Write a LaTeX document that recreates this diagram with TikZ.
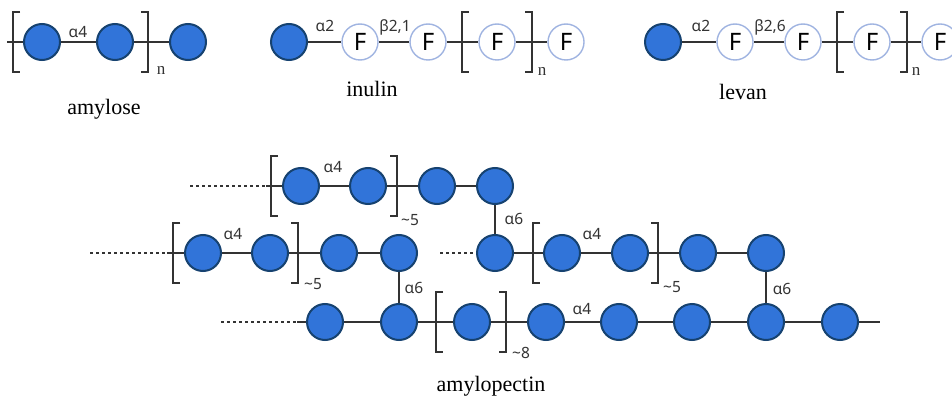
\documentclass[tikz,border=0pt]{standalone}
\usepackage{fontspec}
\setmainfont{Liberation Serif}
\newfontfamily\lblfont{Noto Sans}
\definecolor{gblue}{RGB}{49,116,217}
\definecolor{gedge}{RGB}{22,66,112}
\definecolor{fedge}{RGB}{160,180,225}
\definecolor{lnk}{RGB}{51,51,51}
\tikzset{
  glc/.style={circle,draw=gedge,fill=gblue,line width=2pt,minimum size=36pt,inner sep=0pt},
  fru/.style={circle,draw=fedge,fill=white,line width=1.4pt,minimum size=36pt,inner sep=0pt,
    font=\lblfont\fontsize{24}{24}\selectfont,text=black},
  bond/.style={draw=lnk,line width=1.6pt},
  dotline/.style={draw=lnk,line width=1.4pt,dash pattern=on 3pt off 3pt},
  brk/.style={draw=lnk,line width=1.8pt},
  lab/.style={font=\lblfont\fontsize{15.5}{15.5}\selectfont,text=lnk,inner sep=0pt},
  subn/.style={font=\fontsize{17}{17}\selectfont,text=lnk,inner sep=0pt},
  ttl/.style={font=\fontsize{22}{22}\selectfont,inner sep=0pt,anchor=base},
  lbrk/.pic={\draw[brk] (7,-30) -- (0,-30) -- (0,30) -- (7,30);},
  rbrk/.pic={\draw[brk] (-7,-30) -- (0,-30) -- (0,30) -- (-7,30);}
}
\begin{document}
\begin{tikzpicture}[x=1pt,y=-1pt]
\useasboundingbox[fill=white] (0,0) rectangle (952,398);

% ---------- amylose ----------
\node[glc] (a1) at (42,42) {};
\node[glc] (a2) at (115,42) {};
\node[glc] (a3) at (188,42) {};
\coordinate (a0) at (7,42);
\draw[bond] (a0) -- (a1) (a1) -- (a2) (a2) -- (a3);
\pic at (13,42) {lbrk};
\pic at (148,42) {rbrk};
\node[lab] (al1) at (78,32) {α4};
\node[subn] (an) at (161,70) {n};
\node[ttl] (amy) at (104,115) {amylose};

% ---------- inulin ----------
\node[glc] (i0) at (289,42) {};
\node[fru] (i1) at (360,42) {F};
\node[fru] (i2) at (428,42) {F};
\node[fru] (i3) at (497,42) {F};
\node[fru] (i4) at (566,42) {F};
\draw[bond] (i0) -- (i1) (i1) -- (i2) (i2) -- (i3) (i3) -- (i4);
\pic at (462,42) {lbrk};
\pic at (532,42) {rbrk};
\node[lab] (il1) at (325,26) {α2};
\node[lab] (il2) at (395,27) {β2,1};
\node[subn] (in) at (542,71) {n};
\node[ttl] (inu) at (372,97) {inulin};

% ---------- levan ----------
\node[glc] (l0) at (663,42) {};
\node[fru] (l1) at (735,42) {F};
\node[fru] (l2) at (803,42) {F};
\node[fru] (l3) at (872,42) {F};
\node[fru] (l4) at (940,42) {F};
\draw[bond] (l0) -- (l1) (l1) -- (l2) (l2) -- (l3) (l3) -- (l4);
\pic at (837,42) {lbrk};
\pic at (907,42) {rbrk};
\node[lab] (ll1) at (701,26) {α2};
\node[lab] (ll2) at (770,27) {β2,6};
\node[subn] (ln) at (916,71) {n};
\node[ttl] (lev) at (743,100) {levan};

% ---------- amylopectin row 1 ----------
\node[glc] (p1a) at (301,186) {};
\node[glc] (p1b) at (368,186) {};
\node[glc] (p1c) at (437,186) {};
\node[glc] (p1d) at (495,186) {};
\coordinate (p1s) at (190,186);
\coordinate (p1t) at (266,186);
\draw[dotline] (p1s) -- (p1t);
\draw[bond] (p1t) -- (p1a) (p1a) -- (p1b) (p1b) -- (p1c) (p1c) -- (p1d);
\pic at (271,186) {lbrk};
\pic at (397,186) {rbrk};
\node[lab] (pl1) at (333,167) {α4};
\node[lab] (pn1) at (410,220) {\textasciitilde5};

% ---------- amylopectin row 2 left ----------
\node[glc] (p2a) at (203,253) {};
\node[glc] (p2b) at (270,253) {};
\node[glc] (p2c) at (339,253) {};
\node[glc] (p2d) at (399,253) {};
\coordinate (p2s) at (90,253);
\coordinate (p2t) at (167,253);
\draw[dotline] (p2s) -- (p2t);
\draw[bond] (p2t) -- (p2a) (p2a) -- (p2b) (p2b) -- (p2c) (p2c) -- (p2d);
\pic at (173,253) {lbrk};
\pic at (298,253) {rbrk};
\node[lab] (pl2) at (233,234) {α4};
\node[lab] (pn2) at (313,284) {\textasciitilde5};

% ---------- amylopectin row 2 right ----------
\node[glc] (p2e) at (495,253) {};
\node[glc] (p2f) at (562,253) {};
\node[glc] (p2g) at (630,253) {};
\node[glc] (p2h) at (698,253) {};
\node[glc] (p2i) at (766,253) {};
\coordinate (p2u) at (440,253);
\draw[dotline] (p2u) -- (p2e);
\draw[bond] (p2e) -- (p2f) (p2f) -- (p2g) (p2g) -- (p2h) (p2h) -- (p2i);
\pic at (533,253) {lbrk};
\pic at (658,253) {rbrk};
\node[lab] (pl3) at (592,234) {α4};
\node[lab] (pn3) at (672,287) {\textasciitilde5};
\draw[bond] (p1d) -- (p2e);
\node[lab] (pb1) at (514,219) {α6};

% ---------- amylopectin row 3 ----------
\node[glc] (p3a) at (325,322) {};
\node[glc] (p3b) at (399,322) {};
\node[glc] (p3c) at (472,322) {};
\node[glc] (p3d) at (546,322) {};
\node[glc] (p3e) at (619,322) {};
\node[glc] (p3f) at (692,322) {};
\node[glc] (p3g) at (766,322) {};
\node[glc] (p3h) at (840,322) {};
\coordinate (p3s) at (221,322);
\coordinate (p3t) at (297,322);
\coordinate (p3z) at (880,322);
\draw[dotline] (p3s) -- (p3t);
\draw[bond] (p3t) -- (p3a) (p3a) -- (p3b) (p3b) -- (p3c) (p3c) -- (p3d) (p3d) -- (p3e)
  (p3e) -- (p3f) (p3f) -- (p3g) (p3g) -- (p3h) (p3h) -- (p3z);
\pic at (436,322) {lbrk};
\pic at (506,322) {rbrk};
\node[lab] (pl4) at (582,309) {α4};
\node[lab] (pn4) at (521,353) {\textasciitilde8};
\draw[bond] (p2d) -- (p3b);
\draw[bond] (p2i) -- (p3g);
\node[lab] (pb2) at (414,288) {α6};
\node[lab] (pb3) at (782,289) {α6};
\node[ttl] (amp) at (491,391) {amylopectin};
\end{tikzpicture}
\end{document}
